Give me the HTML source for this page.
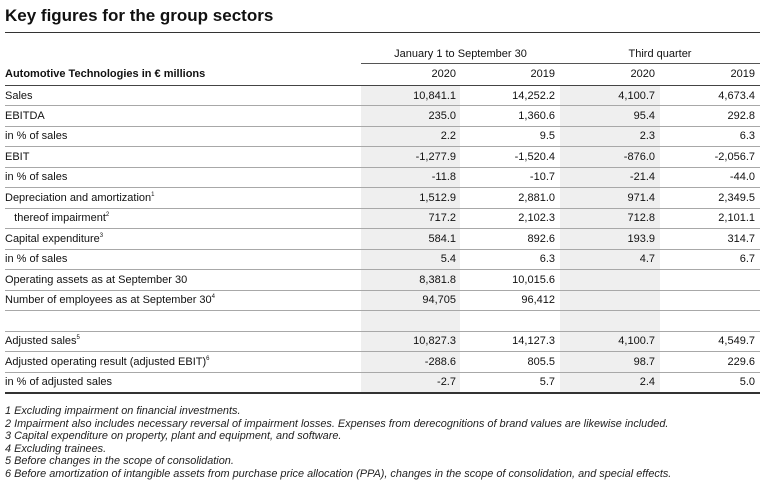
<!DOCTYPE html>
<html><head><meta charset="utf-8"><style>
body{margin:0;width:768px;height:485px;background:#fff;font-family:"Liberation Sans",sans-serif;color:#111;position:relative;overflow:hidden}
.a{position:absolute}
.t{font-size:11px;line-height:20px;white-space:nowrap}
.r{text-align:right}
sup{font-size:6px;vertical-align:5px;line-height:0}
.fn{position:absolute;left:5px;font-size:10.9px;font-style:italic;white-space:nowrap;color:#222}
</style></head><body>
<div class="a" style="left:5px;top:5px;font-size:17px;font-weight:bold;line-height:22px">Key figures for the group sectors</div>
<div class="a" style="left:5px;top:32px;width:755px;height:1px;background:#333"></div>
<div class="a" style="left:361px;top:86px;width:99px;height:306px;background:#efefef"></div>
<div class="a" style="left:560px;top:86px;width:100px;height:306px;background:#efefef"></div>
<div class="a t" style="left:361px;width:199px;top:44px;text-align:center">January 1 to September 30</div>
<div class="a t" style="left:560px;width:200px;top:44px;text-align:center">Third quarter</div>
<div class="a" style="left:361px;top:63px;width:399px;height:1px;background:#555"></div>
<div class="a t" style="left:5px;top:64px;font-weight:bold">Automotive Technologies in € millions</div>
<div class="a t r" style="left:361px;width:95px;top:64px">2020</div>
<div class="a t r" style="left:460px;width:95px;top:64px">2019</div>
<div class="a t r" style="left:560px;width:95px;top:64px">2020</div>
<div class="a t r" style="left:660px;width:95px;top:64px">2019</div>
<div class="a" style="left:5px;top:85px;width:755px;height:1px;background:#444"></div>
<div id="rows"></div>
<div class="fn" style="top:405px">1 Excluding impairment on financial investments.</div>
<div class="fn" style="top:417.5px">2 Impairment also includes necessary reversal of impairment losses. Expenses from derecognitions of brand values are likewise included.</div>
<div class="fn" style="top:430px">3 Capital expenditure on property, plant and equipment, and software.</div>
<div class="fn" style="top:442.5px">4 Excluding trainees.</div>
<div class="fn" style="top:455px">5 Before changes in the scope of consolidation.</div>
<div class="fn" style="top:467.5px">6 Before amortization of intangible assets from purchase price allocation (PPA), changes in the scope of consolidation, and special effects.</div>
<script>
const labels=["Sales","EBITDA","in % of sales","EBIT","in % of sales","Depreciation and amortization<sup>1</sup>","&nbsp;&nbsp;&nbsp;thereof impairment<sup>2</sup>","Capital expenditure<sup>3</sup>","in % of sales","Operating assets as at September 30","Number of employees as at September 30<sup>4</sup>","","Adjusted sales<sup>5</sup>","Adjusted operating result (adjusted EBIT)<sup>6</sup>","in % of adjusted sales"];
const ytd2020=["10,841.1","235.0","2.2","-1,277.9","-11.8","1,512.9","717.2","584.1","5.4","8,381.8","94,705","","10,827.3","-288.6","-2.7"];
const ytd2019=["14,252.2","1,360.6","9.5","-1,520.4","-10.7","2,881.0","2,102.3","892.6","6.3","10,015.6","96,412","","14,127.3","805.5","5.7"];
const q32020=["4,100.7","95.4","2.3","-876.0","-21.4","971.4","712.8","193.9","4.7","","","","4,100.7","98.7","2.4"];
const q32019=["4,673.4","292.8","6.3","-2,056.7","-44.0","2,349.5","2,101.1","314.7","6.7","","","","4,549.7","229.6","5.0"];
const cols=[ytd2020,ytd2019,q32020,q32019];
const colLeft=[361,460,560,660];
const wrap=document.getElementById('rows');
const rowH=(392-85)/labels.length;
labels.forEach((lab,i)=>{
  const top=85+i*rowH;
  const l=document.createElement('div');
  l.className='a t';
  l.style.cssText=`left:5px;top:${top+0.5}px`;
  l.innerHTML=lab;
  
  
  wrap.appendChild(l);
  cols.forEach((c,j)=>{
    const d=document.createElement('div');
    d.className='a t r';
    d.style.cssText=`left:${colLeft[j]}px;width:95px;top:${top+0.5}px`;
    d.textContent=c[i];
    
    
    wrap.appendChild(d);
  });
  const ln=document.createElement('div');
  ln.className='a';
  const last=i===labels.length-1;
  ln.style.cssText=`left:5px;width:755px;top:${Math.round(top+rowH)}px;height:${last?1.5:1}px;background:${last?'#333':'#a8a8a8'}`;
  
  
  wrap.appendChild(ln);
});
</script>
</body></html>
